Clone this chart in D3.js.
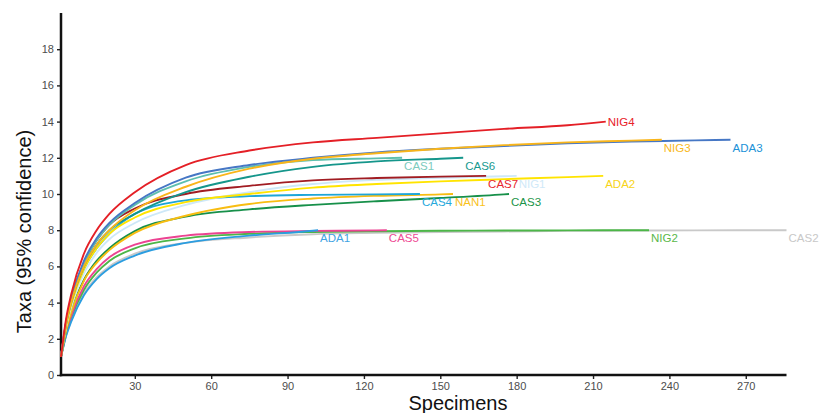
<!DOCTYPE html>
<html lang="en">
<head>
    <meta charset="UTF-8">
    <title>Rarefaction curves</title>
    <script src="https://d3js.org/d3.v7.min.js"></script>
    <style>
        body {
            margin: 0;
            background: #fff;
            font-family: "Liberation Sans", Arial, sans-serif;
        }
        svg {
            display: block;
        }
        .tick text {
            font-size: 11px;
            fill: #4d4d4d;
        }
    </style>
</head>
<body>
    <div id="container"></div>

    <script>
        // sample names (draw order, last on top)
        const sites = ['CAS2', 'NIG2', 'CAS5', 'ADA1', 'CAS3', 'NAN1', 'CAS4', 'NIG1', 'ADA2', 'CAS7', 'CAS6', 'CAS1', 'ADA3', 'NIG3', 'NIG4'];

        // x positions where the curves were read
        const sampleX = [1, 3, 5, 10, 15, 20, 30, 50, 75, 100, 125, 150, 175, 200, 225, 250];

        // last specimen count of each curve
        const endSpecimens = {
            CAS2: 286, NIG2: 232, CAS5: 129, ADA1: 102, CAS3: 177, NAN1: 155, CAS4: 142, NIG1: 180,
            ADA2: 214, CAS7: 168, CAS6: 159, CAS1: 135, ADA3: 264, NIG3: 237, NIG4: 215
        };

        // taxa at sampleX (up to the end), then the final value at the end
        const CAS2 = [1, 2.2, 3.0, 4.5, 5.4, 6.0, 6.7, 7.3, 7.6, 7.78, 7.85, 7.9, 7.93, 7.96, 7.98, 7.99, 8];
        const NIG2 = [1, 2.25, 3.15, 4.7, 5.65, 6.3, 7.0, 7.55, 7.8, 7.9, 7.94, 7.97, 7.98, 7.99, 8.0, 8];
        const CAS5 = [1, 2.3, 3.25, 4.9, 5.85, 6.5, 7.2, 7.7, 7.9, 7.96, 7.99, 8];
        const ADA1 = [1, 2.15, 2.95, 4.4, 5.3, 5.9, 6.6, 7.3, 7.7, 7.97, 8];
        const CAS3 = [1, 2.45, 3.5, 5.25, 6.3, 7.0, 7.95, 8.75, 9.15, 9.4, 9.6, 9.78, 9.98, 10];
        const NAN1 = [1, 2.45, 3.45, 5.2, 6.2, 6.9, 7.85, 8.8, 9.45, 9.75, 9.9, 9.98, 10];
        const CAS4 = [1, 2.75, 3.9, 5.85, 7.0, 7.8, 8.9, 9.65, 9.88, 9.95, 9.98, 10];
        const NIG1 = [1, 2.65, 3.75, 5.6, 6.75, 7.5, 8.4, 9.4, 10.1, 10.55, 10.78, 10.9, 10.98, 11];
        const ADA2 = [1, 2.75, 3.9, 5.85, 7.0, 7.8, 8.7, 9.55, 10.0, 10.35, 10.55, 10.7, 10.82, 10.93, 11];
        const CAS7 = [1, 2.9, 4.15, 6.2, 7.45, 8.3, 9.2, 10.0, 10.45, 10.75, 10.88, 10.96, 11];
        const CAS6 = [1, 2.8, 4.0, 6.0, 7.2, 8.0, 8.9, 10.1, 10.95, 11.5, 11.8, 11.95, 12];
        const CAS1 = [1, 2.9, 4.15, 6.2, 7.45, 8.3, 9.4, 10.7, 11.5, 11.88, 11.97, 12];
        const ADA3 = [1, 2.95, 4.2, 6.3, 7.55, 8.4, 9.5, 10.9, 11.6, 12.0, 12.3, 12.5, 12.65, 12.8, 12.9, 12.96, 13];
        const NIG3 = [1, 2.8, 4.0, 6.0, 7.2, 8.0, 9.1, 10.4, 11.4, 11.95, 12.25, 12.5, 12.7, 12.85, 12.95, 13];
        const NIG4 = [1, 3.1, 4.45, 6.7, 8.0, 8.9, 10.1, 11.6, 12.4, 12.85, 13.1, 13.35, 13.6, 13.8, 14];

        const taxa = {CAS2, NIG2, CAS5, ADA1, CAS3, NAN1, CAS4, NIG1, ADA2, CAS7, CAS6, CAS1, ADA3, NIG3, NIG4};

        const yTicks = [0, 2, 4, 6, 8, 10, 12, 14, 16, 18];
        const xTicks = [30, 60, 90, 120, 150, 180, 210, 240, 270];

        // colours
        const lineColor = {
            CAS2: '#c9c9c9', NIG2: '#4cb648', CAS5: '#ec4392', ADA1: '#2b9de0', CAS3: '#17904a',
            NAN1: '#f8bd12', CAS4: '#1ea6d8', NIG1: '#cde8f8', ADA2: '#ffe400', CAS7: '#a11c22',
            CAS6: '#15968b', CAS1: '#5dbfae', ADA3: '#4677c5', NIG3: '#f9b51a', NIG4: '#e41f26'
        };
        const labelColor = {
            CAS2: '#c8c8c8', NIG2: '#5bb84a', CAS5: '#ee4a94', ADA1: '#3ea3e3', CAS3: '#1b9448',
            NAN1: '#f9c21b', CAS4: '#27a9dc', NIG1: '#d0e9f8', ADA2: '#f7d417', CAS7: '#e8262c',
            CAS6: '#179a90', CAS1: '#7ccbbd', ADA3: '#2192d8', NIG3: '#f9b81b', NIG4: '#e82129'
        };

        const width = 830;
        const height = 413;

        const svg = d3.select('#container').append('svg')
            .attr('width', width)
            .attr('height', height);

        const x = d3.scaleLinear().domain([1, 286]).range([61, 786.5]);
        const y = d3.scaleLinear().domain([0, 20]).range([375, 13]);

        // build points for each curve
        const curves = sites.map(function(name) {
            const vals = taxa[name];
            const end = endSpecimens[name];
            const pts = [];
            sampleX.forEach(function(s, i) {
                if (s < end) pts.push([s, vals[i]]);
            });
            pts.push([end, vals[vals.length - 1]]);
            return {name: name, points: pts};
        });

        // axes
        const yAxis = svg.append('g')
            .attr('transform', 'translate(61,0)')
            .call(d3.axisLeft(y).tickValues(yTicks).tickSize(4).tickPadding(3).tickSizeOuter(0));
        yAxis.select('.domain').remove();
        yAxis.selectAll('.tick line').attr('stroke', '#222').attr('stroke-width', 1.4);

        const xAxis = svg.append('g')
            .attr('transform', 'translate(0,375)')
            .call(d3.axisBottom(x).tickValues(xTicks).tickSize(4).tickPadding(3).tickSizeOuter(0));
        xAxis.select('.domain').remove();
        xAxis.selectAll('.tick line').attr('stroke', '#222').attr('stroke-width', 1.4);

        svg.append('line')
            .attr('x1', 61).attr('x2', 61)
            .attr('y1', y(20)).attr('y2', 376.2)
            .attr('stroke', '#111').attr('stroke-width', 2.5);
        svg.append('line')
            .attr('x1', 59.8).attr('x2', x(286))
            .attr('y1', 375).attr('y2', 375)
            .attr('stroke', '#111').attr('stroke-width', 2.5);

        // curves
        const line = d3.line()
            .x(d => x(d[0]))
            .y(d => y(d[1]))
            .curve(d3.curveMonotoneX);

        svg.selectAll('.curve')
            .data(curves)
            .enter()
            .append('path')
            .attr('class', 'curve')
            .attr('d', d => line(d.points))
            .attr('fill', 'none')
            .attr('stroke', d => lineColor[d.name])
            .attr('stroke-width', 1.9);

        // end labels
        svg.selectAll('.lab')
            .data(curves)
            .enter()
            .append('text')
            .attr('class', 'lab')
            .attr('x', d => x(d.points[d.points.length - 1][0]) + 2)
            .attr('y', d => y(d.points[d.points.length - 1][1]) + (d.name === 'NIG4' ? 0.5 : 8))
            .attr('dominant-baseline', 'central')
            .attr('font-size', '11.5px')
            .attr('fill', d => labelColor[d.name])
            .text(d => d.name);

        // axis titles
        svg.append('text')
            .attr('transform', 'translate(31,231.5) rotate(-90)')
            .attr('text-anchor', 'middle')
            .attr('font-size', '20px')
            .attr('fill', '#111')
            .text('Taxa (95% confidence)');

        svg.append('text')
            .attr('x', 458)
            .attr('y', 409.5)
            .attr('text-anchor', 'middle')
            .attr('font-size', '20px')
            .attr('fill', '#111')
            .text('Specimens');
    </script>
</body>
</html>
